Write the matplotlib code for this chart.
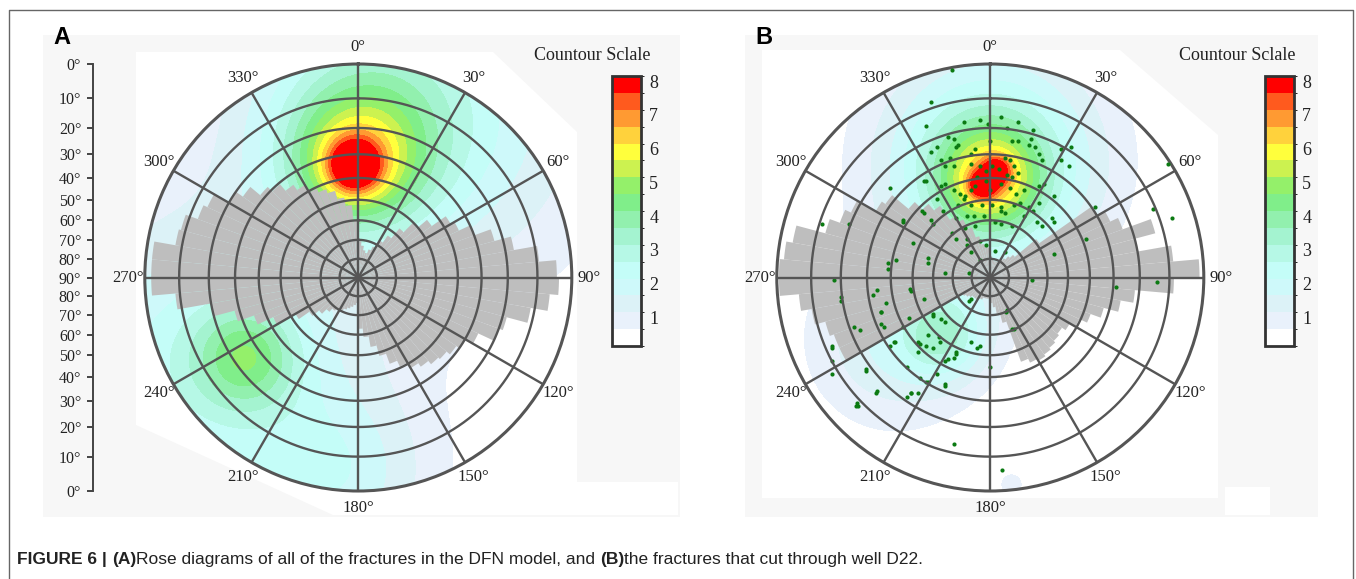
import numpy as np
import matplotlib
matplotlib.use("Agg")
import matplotlib.pyplot as plt
from matplotlib.colors import ListedColormap, BoundaryNorm
from matplotlib.cm import ScalarMappable
from matplotlib.patches import Rectangle, Polygon

W, H = 1356, 579

# ---------------- data ----------------
# rose diagram: 5 degree bins starting at 0, length as fraction of the net radius
bin_az = np.arange(0, 360, 5)
rose_a = [0.17, 0.15, 0.13, 0.12, 0.14, 0.16, 0.20, 0.24,
          0.30, 0.36, 0.42, 0.50, 0.52, 0.58, 0.66, 0.74,
          0.85, 0.93, 0.94, 0.90, 0.82, 0.72, 0.70, 0.62,
          0.58, 0.56, 0.54, 0.53, 0.51, 0.49, 0.46, 0.43,
          0.38, 0.33, 0.28, 0.24,
          0.12, 0.13, 0.14, 0.15, 0.16, 0.17, 0.18, 0.19,
          0.21, 0.24, 0.28, 0.34, 0.44, 0.52, 0.60, 0.70,
          0.86, 0.97, 0.97, 0.97, 0.87, 0.86, 0.80, 0.78,
          0.70, 0.66, 0.60, 0.57, 0.53, 0.50, 0.46, 0.44,
          0.42, 0.38, 0.34, 0.27]
rose_b = [0.10, 0.09, 0.08, 0.08, 0.08, 0.09, 0.10, 0.11,
          0.13, 0.15, 0.28, 0.58, 0.62, 0.66, 0.80, 0.70,
          0.86, 0.98, 0.86, 0.68, 0.62, 0.55, 0.50, 0.46,
          0.43, 0.41, 0.42, 0.43, 0.44, 0.45, 0.44, 0.42,
          0.22, 0.17, 0.14, 0.12,
          0.10, 0.10, 0.10, 0.10, 0.11, 0.11, 0.12, 0.12,
          0.12, 0.13, 0.14, 0.15, 0.78, 0.78, 0.80, 0.85,
          0.90, 0.99, 0.99, 0.97, 0.94, 0.80, 0.75, 0.72,
          0.62, 0.60, 0.50, 0.45, 0.41, 0.33, 0.30, 0.25,
          0.20, 0.16, 0.15, 0.14]

# pole density maxima: azimuth, dip, height, spread (net radius units)
peak_a_az = [357.8, 359, 0, 20, 234.6, 240, 185]
peak_a_dip = [35, 34, 22, 10, 24.9, 8, 3]
peak_a_amp = [3.6, 3.0, 1.9, 2.1, 2.4, 2.2, 1.4]
peak_a_sig = [0.085, 0.20, 0.32, 0.55, 0.17, 0.50, 0.30]
base_a = 0.1

peak_b_az = [354.7, 3.4, 0, 0, 0, 219.2, 236.3, 174.1]
peak_b_dip = [43.2, 36.8, 41.6, 36.0, 28.1, 51.6, 33.2, 1.4]
peak_b_amp = [2.6, 2.4, 2.8, 3.0, 1.1, 2.2, 1.5, 0.6]
peak_b_sig = [0.045, 0.045, 0.15, 0.30, 0.42, 0.14, 0.28, 0.07]
base_b = 0.0

# poles of fractures cut by well D22 (east, north on the net)
poles_e = [-0.18, -0.28, -0.30, -0.125, -0.05, -0.01, 0.05, 0.13, 0.08, 0.20,
           0.19, 0.13, 0.10, 0.18, -0.17, -0.20, -0.16, -0.15, -0.25, -0.28,
           0.00, 0.21, 0.23, 0.24, 0.33, 0.38, -0.19, -0.09, -0.07, 0.07,
           0.09, -0.23, -0.17, -0.21, -0.09, -0.05, -0.02, 0.01, 0.04, 0.11,
           0.08, 0.13, 0.10, 0.37, 0.33, -0.30, -0.23, -0.21, -0.17, -0.14,
           -0.12, -0.07, -0.02, -0.06, -0.09, 0.00, 0.05, 0.09, 0.12, 0.16,
           0.23, 0.25, 0.30, -0.47, -0.25, -0.22, -0.15, -0.125, -0.09, -0.04,
           0.01, 0.05, 0.11, 0.14, 0.18, 0.23, 0.20, 0.29, 0.30, 0.22,
           0.16, 0.07, 0.05, -0.03, -0.075, -0.11, -0.16, -0.28, -0.31, -0.41,
           -0.79, -0.66, 0.49, 0.76, 0.85, 0.83, -0.12, -0.07, 0.02, 0.05,
           0.10, 0.24, 0.45, 0.30, -0.18, -0.16, -0.11, -0.05, -0.02, 0.02,
           0.07, -0.05, -0.11, -0.36, -0.29, -0.29, -0.44, -0.48, -0.48, -0.21,
           -0.10, -0.73, -0.70, -0.70, -0.55, -0.53, -0.51, -0.49, -0.375, -0.31,
           -0.64, -0.61, -0.51, -0.41, -0.38, -0.74, -0.74, -0.58, -0.53, -0.625,
           -0.62, -0.39, -0.37, -0.34, -0.29, -0.21, -0.17, 0.055, -0.47, -0.445,
           -0.34, -0.34, -0.30, -0.27, -0.24, -0.23, -0.27, -0.21, -0.16, -0.17,
           -0.09, -0.05, -0.09, 0.00, 0.08, 0.10, 0.195, 0.59, 0.78, -0.41,
           -0.32, -0.27, -0.31, -0.37, -0.27, -0.21, -0.45, -0.33, -0.29, -0.235,
           -0.39, -0.33, -0.37, -0.21, -0.10, -0.06, -0.16, -0.20, -0.25, -0.30,
           -0.74, -0.74, -0.58, -0.535, -0.63, 0.075, 0.11, -0.09, -0.51, -0.50]
poles_n = [0.97, 0.82, 0.71, 0.73, 0.74, 0.72, 0.75, 0.73, 0.70, 0.69,
           0.65, 0.64, 0.64, 0.62, 0.65, 0.66, 0.61, 0.62, 0.61, 0.59,
           0.64, 0.61, 0.58, 0.55, 0.60, 0.61, 0.56, 0.58, 0.60, 0.56,
           0.55, 0.55, 0.52, 0.52, 0.53, 0.52, 0.50, 0.52, 0.51, 0.52,
           0.48, 0.49, 0.47, 0.52, 0.55, 0.45, 0.43, 0.44, 0.41, 0.39,
           0.38, 0.43, 0.45, 0.47, 0.41, 0.41, 0.44, 0.42, 0.39, 0.41,
           0.43, 0.44, 0.38, 0.42, 0.37, 0.31, 0.34, 0.37, 0.34, 0.34,
           0.34, 0.33, 0.34, 0.35, 0.33, 0.35, 0.31, 0.28, 0.26, 0.26,
           0.29, 0.30, 0.31, 0.29, 0.29, 0.29, 0.28, 0.27, 0.30, 0.26,
           0.25, 0.25, 0.33, 0.32, 0.28, 0.53, 0.23, 0.24, 0.26, 0.25,
           0.24, 0.24, 0.18, 0.11, 0.21, 0.18, 0.18, 0.17, 0.15, 0.125,
           0.12, 0.08, 0.15, 0.16, 0.09, 0.07, 0.08, 0.07, 0.04, 0.02,
           0.02, -0.01, -0.09, -0.11, -0.08, -0.06, -0.16, -0.12, -0.055, -0.10,
           -0.23, -0.245, -0.22, -0.23, -0.19, -0.32, -0.45, -0.43, -0.53, -0.59,
           -0.60, -0.56, -0.54, -0.54, -0.49, -0.50, -0.78, -0.90, -0.32, -0.30,
           -0.30, -0.35, -0.32, -0.33, -0.28, -0.195, -0.17, -0.39, -0.35, -0.375,
           -0.30, -0.32, -0.10, -0.42, -0.15, -0.24, -0.01, -0.045, -0.02, 0.27,
           0.31, 0.25, 0.45, -0.065, -0.18, -0.21, -0.30, -0.31, -0.27, -0.30,
           -0.42, -0.47, -0.54, -0.51, -0.11, -0.33, -0.36, -0.38, -0.45, -0.49,
           -0.33, -0.39, -0.44, -0.54, -0.60, -0.16, -0.24, 0.12, -0.16, -0.23]

# net rings (dip) and scale
ring_dips = [10, 20, 30, 40, 50, 60, 70, 80]
spoke_az = list(range(0, 360, 30))
scale_dips_up = [0, 10, 20, 30, 40, 50, 60, 70, 80, 90]
scale_dips_down = [80, 70, 60, 50, 40, 30, 20, 10, 0]

# contour scale: 16 bands of 0.5
band_edges = np.arange(0, 8.5, 0.5)
band_colors = ["#FFFFFF", "#E9F1FB", "#DCF2F7", "#CEF9FA", "#C4FDF8", "#B6F8E6",
               "#A4F3D0", "#92F0AE", "#80EE8A", "#94F06A", "#CCF250", "#FFFF3C",
               "#FFD23C", "#FF9A32", "#FF5A1E", "#FF0000"]
cbar_labels = [1, 2, 3, 4, 5, 6, 7, 8]

GRID = "#555555"
SERIF = "Liberation Serif"


def stereo(dip):
    return np.tan(np.radians(90 - np.asarray(dip, dtype=float)) / 2)


def density(theta, r, az, dip, amp, sig, base):
    e = r * np.sin(theta)
    n = r * np.cos(theta)
    z = np.full_like(e, base)
    for a, d, h, s in zip(az, dip, amp, sig):
        pr = stereo(d)
        pe, pn = pr * np.sin(np.radians(a)), pr * np.cos(np.radians(a))
        z += h * np.exp(-((e - pe) ** 2 + (n - pn) ** 2) / (2 * s ** 2))
    return z


fig = plt.figure(figsize=(W / 100, H / 100), dpi=100)


def rect(x0, y0, x1, y1):
    # pixel box (top-left origin) -> figure fraction
    return [x0 / W, 1 - y1 / H, (x1 - x0) / W, (y1 - y0) / H]


def px(x, y):
    return (x / W, 1 - y / H)


# light grey picture backgrounds
bg = fig.add_axes([0, 0, 1, 1], zorder=-5)
bg.set_xlim(0, W)
bg.set_ylim(H, 0)
bg.axis("off")
bg.add_patch(Rectangle((43, 35), 637, 482, color="#F7F7F7", lw=0))
bg.add_patch(Polygon([(136, 52), (493, 52), (577, 132), (577, 482), (678, 482),
                      (678, 515), (333, 515), (136, 425)], color="white", lw=0))
bg.add_patch(Rectangle((745, 35), 573, 482, color="#F7F7F7", lw=0))
bg.add_patch(Polygon([(762, 50), (1120, 50), (1218, 135), (1218, 498), (762, 498)],
                     color="white", lw=0))
bg.add_patch(Rectangle((1225, 487), 45, 28, color="white", lw=0))
# outer frame
bg.plot([8.5, 8.5, 1353, 1353], [579, 10, 10, 579], color="#666666", lw=1)

theta_g = np.radians(np.linspace(0, 360, 361))
r_g = np.linspace(0, 1, 220)
TT, RR = np.meshgrid(theta_g, r_g)
levels = list(band_edges[:-1]) + [100]


def stereonet(cx, cy, rose, peaks, base, poles=None):
    R = 213.5
    ax = fig.add_axes(rect(cx - R, cy - R, cx + R, cy + R), projection="polar")
    ax.set_theta_zero_location("N")
    ax.set_theta_direction(-1)
    Z = density(TT, RR, *peaks, base)
    ax.contourf(TT, RR, Z, levels=levels, colors=band_colors, zorder=1)
    ax.bar(np.radians(bin_az + 2.5), rose, width=np.radians(5), bottom=0,
           color="#BEBEBE", linewidth=0, zorder=2)
    if poles is not None:
        pe, pn = np.asarray(poles[0]), np.asarray(poles[1])
        ax.scatter(np.arctan2(pe, pn), np.hypot(pe, pn), s=9, color="#0B7A12",
                   linewidths=0, zorder=3)
    for d in ring_dips:
        ax.plot(theta_g, np.full_like(theta_g, stereo(d)), color=GRID, lw=1.7, zorder=4)
    for a in spoke_az:
        ax.plot([np.radians(a)] * 2, [0, 1], color=GRID, lw=1.7, zorder=4)
        ax.text(np.radians(a), 1.08, f"{a}°", ha="center", va="center",
                fontsize=12, family=SERIF, color="#222222")
    ax.set_ylim(0, 1)
    ax.set_xticks([])
    ax.set_yticks([])
    ax.grid(False)
    ax.spines["polar"].set_linewidth(2.2)
    ax.spines["polar"].set_color(GRID)
    return ax


stereonet(358.3, 277.5, rose_a, (peak_a_az, peak_a_dip, peak_a_amp, peak_a_sig), base_a)
stereonet(990.3, 277.5, rose_b, (peak_b_az, peak_b_dip, peak_b_amp, peak_b_sig), base_b,
          poles=(poles_e, poles_n))

# dip scale for panel A
sax = fig.add_axes(rect(93, 277.5 - 213.5, 94, 277.5 + 213.5))
sax.set_ylim(-1, 1)
ticks = list(stereo(scale_dips_up)) + list(-stereo(scale_dips_down))
labels = [f"{d}°" for d in scale_dips_up] + [f"{d}°" for d in scale_dips_down]
sax.set_yticks(ticks)
sax.set_yticklabels(labels, family=SERIF, fontsize=11.5, color="#222222")
sax.set_yticks([0], minor=True)
sax.tick_params(axis="y", which="major", direction="out", length=4.5, width=1.4,
                color="#444444", pad=4)
sax.tick_params(axis="y", which="minor", direction="out", length=9.5, width=1.4,
                color="#444444")
sax.set_xticks([])
for s in ["top", "right", "bottom"]:
    sax.spines[s].set_visible(False)
sax.spines["left"].set_color("#444444")
sax.spines["left"].set_linewidth(1.4)
sax.patch.set_visible(False)

# contour scales
cmap = ListedColormap(band_colors)
norm = BoundaryNorm(band_edges, cmap.N)
for x0, title_x in [(612, 592), (1265, 1237)]:
    cax = fig.add_axes(rect(x0, 76, x0 + 29, 346))
    cb = fig.colorbar(ScalarMappable(norm=norm, cmap=cmap), cax=cax,
                      ticks=np.array(cbar_labels) - 0.15)
    cb.set_ticklabels([str(v) for v in cbar_labels])
    cb.ax.tick_params(length=0, labelsize=13, pad=6)
    for t in cb.ax.get_yticklabels():
        t.set_family(SERIF)
        t.set_color("#222222")
    cb.outline.set_linewidth(2)
    cb.outline.set_edgecolor("#333333")
    fig.text(*px(title_x, 55), "Countour Sclale", ha="center", va="center",
             fontsize=13, family=SERIF, color="#222222")

fig.text(*px(62, 37), "A", ha="center", va="center", fontsize=17,
         fontweight="bold", family="Liberation Sans")
fig.text(*px(764, 37), "B", ha="center", va="center", fontsize=17,
         fontweight="bold", family="Liberation Sans")

# caption with bold pieces, chained one after another
cap_font = ["Liberation Sans Narrow", "Liberation Sans"]
pieces = [("FIGURE 6 | ", "bold"), ("(A)", "bold"),
          ("Rose diagrams of all of the fractures in the DFN model, and ", "normal"),
          ("(B)", "bold"), ("the fractures that cut through well D22.", "normal")]
prev = bg.text(17, 567, pieces[0][0], fontsize=12.5, fontweight=pieces[0][1],
               family=cap_font, va="bottom", ha="left", color="#222222")
for txt, wt in pieces[1:]:
    prev = bg.annotate(txt, xy=(1, 0), xycoords=prev, fontsize=12.5, fontweight=wt,
                       family=cap_font, va="bottom", ha="left", color="#222222")

fig.savefig("out.png", dpi=100)
